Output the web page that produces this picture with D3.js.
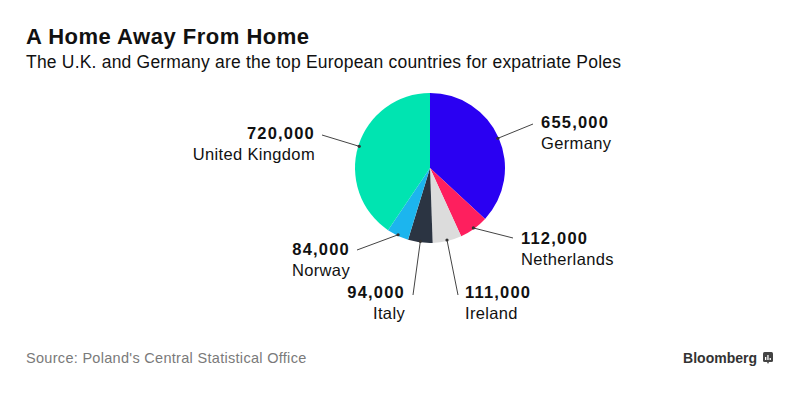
<!DOCTYPE html>
<html><head><meta charset="utf-8">
<script src="https://cdn.jsdelivr.net/npm/d3@7"></script>
<style>
body{margin:0;background:#fff;}
svg{display:block;font-family:"Liberation Sans",Arial,sans-serif;}
</style></head>
<body><svg id="c" width="788" height="397"></svg>
<script>
const countries = ["Germany","Netherlands","Ireland","Italy","Norway","United Kingdom"];
const values = [655000,112000,111000,94000,84000,720000];
const valueLabels = ["655,000","112,000","111,000","94,000","84,000","720,000"];
const colors = ["#2a00f2","#fe1f5e","#dcdcdc","#2b3442","#1cb5ee","#00e4b1"];
// label anchor layout (x, y of value baseline, alignment, leader end)
const labelX = [541,521,465,405,350,315];
const labelY = [128,244,298,298,255,139];
const labelAnchor = ["start","start","start","end","end","end"];
const leaderEndX = [533,513,458,413,357,322];
const leaderEndY = [124,238,295,295,250,135];

const svg = d3.select("#c");
svg.append("text").attr("x",26).attr("y",44).attr("font-size",22).attr("letter-spacing",0.5).attr("font-weight","bold").attr("fill","#111").text("A Home Away From Home");
svg.append("text").attr("x",26).attr("y",68).attr("font-size",17.5).attr("letter-spacing",0.2).attr("fill","#111").text("The U.K. and Germany are the top European countries for expatriate Poles");

const cx=430, cy=168, r=75;
const data = countries.map((c,i)=>({c,v:values[i],i}));
const pie = d3.pie().value(d=>d.v).sort(null);
const arcs = pie(data);
const arc = d3.arc().innerRadius(0).outerRadius(r);
const g = svg.append("g").attr("transform",`translate(${cx},${cy})`);
g.selectAll("path").data(arcs).join("path").attr("d",arc).attr("fill",d=>colors[d.data.i]);

arcs.forEach(a=>{
  const i=a.data.i;
  const mid=(a.startAngle+a.endAngle)/2;
  const sx=cx+(r-1)*Math.sin(mid), sy=cy-(r-1)*Math.cos(mid);
  svg.append("line").attr("x1",sx).attr("y1",sy).attr("x2",leaderEndX[i]).attr("y2",leaderEndY[i]).attr("stroke","#444").attr("stroke-width",1);
  svg.append("circle").attr("cx",sx).attr("cy",sy).attr("r",1.6).attr("fill","#333");
  svg.append("text").attr("x",labelX[i]).attr("y",labelY[i]).attr("text-anchor",labelAnchor[i]).attr("font-size",16.5).attr("letter-spacing",1.2).attr("font-weight","bold").attr("fill","#111").text(valueLabels[i]);
  svg.append("text").attr("x",labelX[i]).attr("y",labelY[i]+21).attr("text-anchor",labelAnchor[i]).attr("font-size",16.5).attr("letter-spacing",0.35).attr("fill","#111").text(countries[i]);
});

svg.append("text").attr("x",26).attr("y",363).attr("font-size",14.5).attr("letter-spacing",0.3).attr("fill","#7a7a7a").text("Source: Poland's Central Statistical Office");
svg.append("text").attr("x",757).attr("y",363).attr("text-anchor","end").attr("font-size",14).attr("font-weight","bold").attr("fill","#333").text("Bloomberg");
const ic = svg.append("g").attr("transform","translate(763,352)");
ic.append("rect").attr("width",10).attr("height",10).attr("rx",1.5).attr("fill","#444");
ic.append("path").attr("d","M4,10 L5,12 L6,10 Z").attr("fill","#444");
[[2,5,1.3,3],[4.3,3,1.3,5],[6.6,6,1.3,2]].forEach(b=>ic.append("rect").attr("x",b[0]).attr("y",b[1]).attr("width",b[2]).attr("height",b[3]).attr("fill","#fff"));
</script></body></html>
